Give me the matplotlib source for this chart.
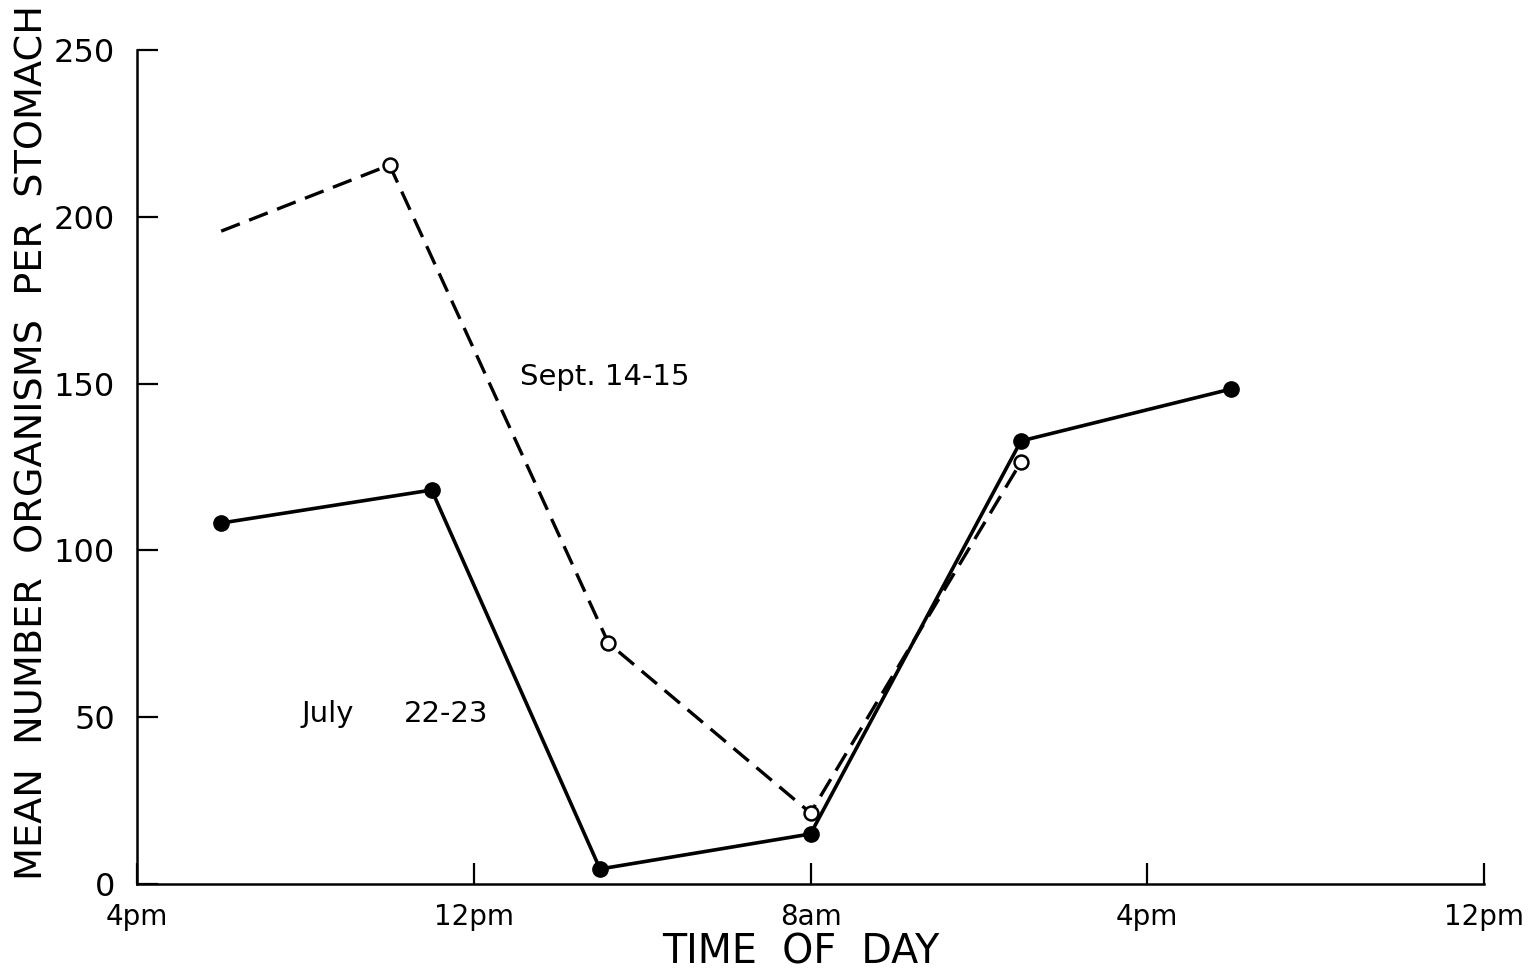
import matplotlib
matplotlib.use("Agg")
import matplotlib.pyplot as plt

# Hours since 4 pm on day 1
tick_hours = [0, 8, 16, 24, 32]
tick_labels = ["4pm", "12pm", "8am", "4pm", "12pm"]
y_ticks = [0, 50, 100, 150, 200, 250]

july_hours = [2, 7, 11, 16, 21, 26]
july_values = [108.2, 118.1, 4.5, 15.0, 132.8, 148.4]

sept_hours = [2, 6, 11.2, 16, 21]
sept_values = [195.7, 215.5, 72.2, 21.3, 126.5]

plt.rcParams['font.family'] = ['DejaVu Sans']

W, H = 1539, 975
fig = plt.figure(figsize=(W/100, H/100), dpi=100)
ax = fig.add_axes([137/W, 1-884/H, (1484-137)/W, (884-50)/H])

# Sept dashed line (first point has no marker)
ax.plot(sept_hours, sept_values, color='black', lw=2.4, linestyle=(0, (6, 3)), zorder=2)
ax.plot(sept_hours[1:], sept_values[1:], linestyle='none', marker='o', markersize=10,
        markerfacecolor='white', markeredgecolor='black', markeredgewidth=1.8, zorder=3)

# July solid line
ax.plot(july_hours, july_values, color='black', lw=2.6, marker='o', markersize=11,
        markerfacecolor='black', markeredgecolor='black', zorder=4)

ax.set_xlim(0, 32)
ax.set_ylim(0, 250)
ax.set_xticks(tick_hours)
ax.set_xticklabels(tick_labels, fontsize=20)
ax.set_yticks(y_ticks)
ax.set_yticklabels([str(v) for v in y_ticks], fontsize=23)

for s in ['top', 'right']:
    ax.spines[s].set_visible(False)
for s in ['left', 'bottom']:
    ax.spines[s].set_linewidth(1.8)

ax.tick_params(axis='x', direction='in', length=15, width=1.6, pad=14)
ax.tick_params(axis='y', direction='in', length=15, width=1.6, pad=16)

fig.text(801/W, 1-952/H, "TIME  OF  DAY", fontsize=28.5, ha='center', va='center')
fig.text(33/W, 1-442/H, "MEAN  NUMBER  ORGANISMS  PER  STOMACH", fontsize=27.5,
         rotation=90, ha='center', va='center')

ax.text(9.1, 152, "Sept. 14-15", fontsize=21, ha='left', va='center')
ax.text(3.9, 51, "July", fontsize=21, ha='left', va='center')
ax.text(6.35, 51, "22-23", fontsize=21, ha='left', va='center')

fig.savefig("out.png", dpi=100)
